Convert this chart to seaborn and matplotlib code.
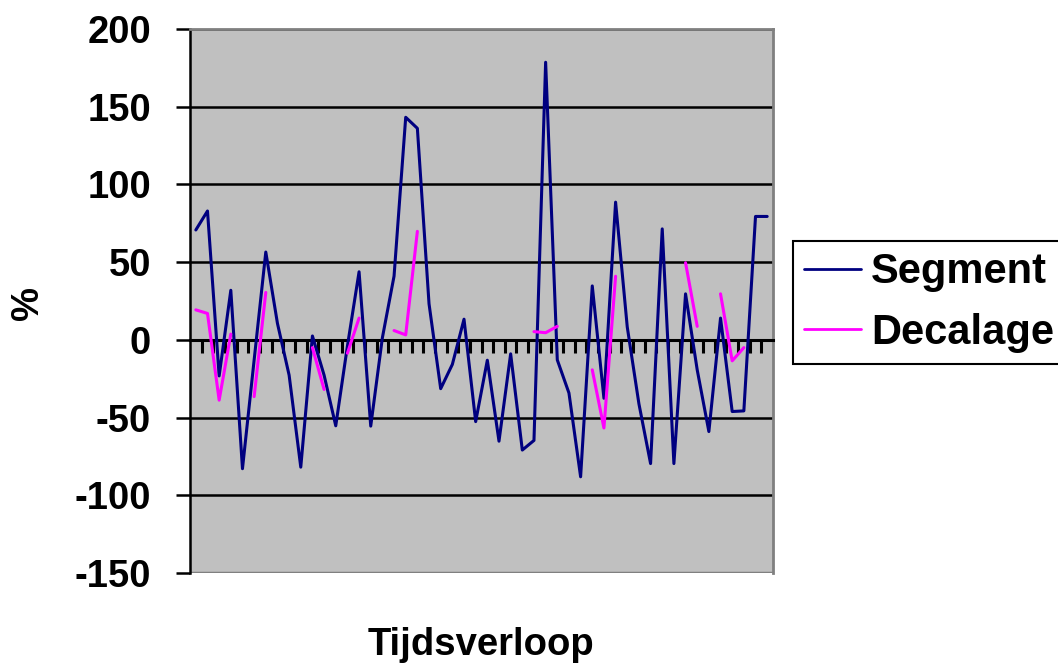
import numpy as np
import pandas as pd
import matplotlib
matplotlib.use("Agg")
import matplotlib.pyplot as plt
import seaborn as sns
from matplotlib.lines import Line2D

# values (50 time steps)
segment = [70.7, 82.9, -23.2, 31.9, -82.9, -13, 56.5, 10.6, -22.7, -81.9,
           2.5, -22.7, -55.3, -4, 43.8, -55.5, 1.4, 41, 143.2, 136.1,
           23.2, -31.4, -15.8, 13.3, -52.6, -13.1, -65.2, -9, -70.9, -64.7,
           178.6, -12.9, -34.2, -88.1, 34.7, -37.6, 88.6, 8.3, -41.1, -79.6,
           71.4, -79.6, 29.6, -19.3, -59, 14, -46.1, -45.7, 79.4, 79.4]
nan = np.nan
decalage = [19.3, 17, -38.8, 3.7, nan, -36.5, 30.5, nan, nan, nan,
            -5, -31.9, nan, -8.6, 14, nan, nan, 6, 3.2, 69.8,
            nan, nan, nan, nan, nan, nan, nan, nan, nan, 5.3,
            4.6, 8.7, nan, nan, -19.3, -56.7, 40.9, nan, nan, nan,
            nan, nan, 49.6, 8.7, nan, 29.6, -13.5, -5, nan, nan]
series_names = ["Segment", "Decalage"]
colors = {"Segment": "#000080", "Decalage": "#FF00FF"}
y_ticks = [-150, -100, -50, 0, 50, 100, 150, 200]


def to_long(name, values):
    # one run per unbroken stretch, so the gaps stay open
    df = pd.DataFrame({"t": np.arange(len(values)), "val": values})
    df["run"] = df["val"].isna().cumsum()
    df = df.dropna()
    df["serie"] = name
    return df


long = pd.concat([to_long("Segment", segment), to_long("Decalage", decalage)],
                 ignore_index=True)

sns.set_style("white")
plt.rcParams["font.family"] = ["Liberation Sans", "DejaVu Sans"]
plt.rcParams["font.weight"] = "bold"
plt.rcParams["text.color"] = "black"
plt.rcParams["xtick.color"] = "black"
plt.rcParams["ytick.color"] = "black"
plt.rcParams["axes.unicode_minus"] = False

fig = plt.figure(figsize=(10.58, 6.68), dpi=100)
ax = fig.add_axes([190 / 1058, 1 - 573 / 668, 583 / 1058, 544 / 668])
ax.set_facecolor("#C0C0C0")

ax.set_ylim(-150, 200)
ax.set_xlim(-0.5, len(segment) - 0.5)
ax.set_yticks(y_ticks)
ax.yaxis.grid(True, color="black", linewidth=1.8)
ax.set_axisbelow(True)
ax.axhline(-150, color="#808080", linewidth=2.5, zorder=1)

sns.lineplot(data=long, x="t", y="val", hue="serie", units="run",
             estimator=None, palette=colors, hue_order=series_names,
             linewidth=2.2, legend=False, ax=ax, zorder=3)

# category axis sits on zero, ticks between categories
ax.spines["bottom"].set_position(("data", 0))
ax.spines["bottom"].set_color("black")
ax.spines["bottom"].set_linewidth(2.2)
ax.spines["left"].set_color("black")
ax.spines["left"].set_linewidth(1.8)
for s in ["top", "right"]:
    ax.spines[s].set_color("#808080")
    ax.spines[s].set_linewidth(2)
ax.set_xticks(np.arange(0.5, len(segment) - 1, 1))
ax.set_xticklabels([])
ax.tick_params(axis="x", bottom=True, direction="out", length=9.5, width=2.2,
               color="black")
ax.tick_params(axis="y", left=True, direction="out", length=10, width=1.8,
               pad=18, labelsize=27.5, color="black", labelcolor="black")
for lab in ax.get_yticklabels():
    lab.set_fontweight("bold")

ax.set_xlabel("")
ax.set_ylabel("")
fig.text(28 / 1058, 1 - 303 / 668, "%", rotation=90, ha="center", va="center",
         fontsize=27.5, fontweight="bold", color="black")
fig.text(481 / 1058, 1 - 645 / 668, "Tijdsverloop", ha="center", va="center",
         fontsize=27.5, fontweight="bold", color="black")

handles = [Line2D([], [], color=colors[n], linewidth=2) for n in series_names]
leg = fig.legend(handles, series_names, loc="upper left",
                 bbox_to_anchor=(793 / 1058, 1 - 241 / 668),
                 bbox_transform=fig.transFigure, borderaxespad=0,
                 fancybox=False, framealpha=1, edgecolor="black",
                 prop={"size": 30, "weight": "bold"}, handlelength=1.35,
                 handletextpad=0.25, borderpad=0.27, labelspacing=0.5)
leg.get_frame().set_linewidth(1.5)
for t in leg.get_texts():
    t.set_color("black")

fig.savefig("out.png", dpi=100)
